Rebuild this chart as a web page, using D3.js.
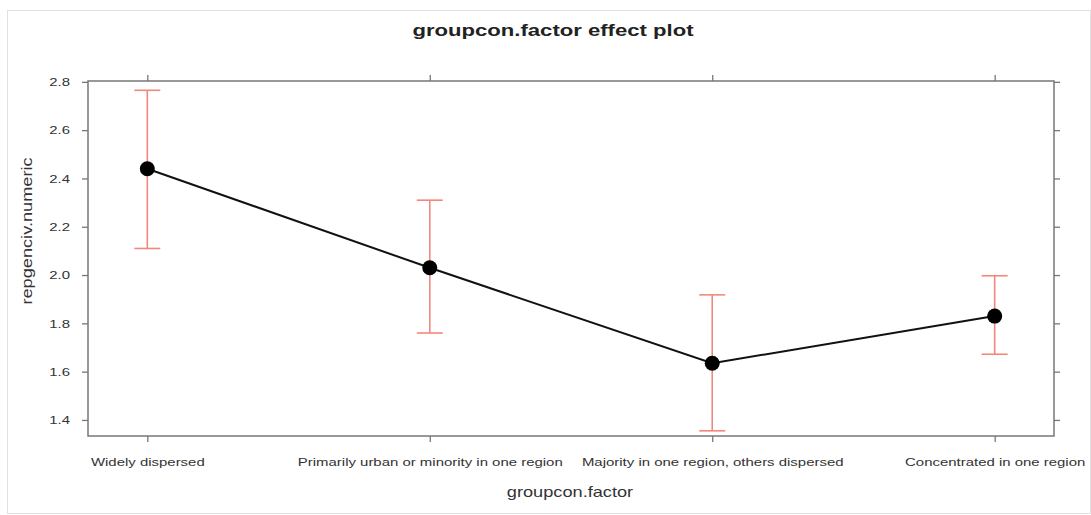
<!DOCTYPE html>
<html>
<head>
<meta charset="utf-8">
<script src="https://cdn.jsdelivr.net/npm/d3@7"></script>
<style>
  body { margin: 0; background: #fff; }
  text { font-family: "Liberation Sans", Arial, sans-serif; }
</style>
</head>
<body>
<div id="chart"></div>
<script>
// data
var categories = [
  "Widely dispersed",
  "Primarily urban or minority in one region",
  "Majority in one region, others dispersed",
  "Concentrated in one region"
];
var fitValues = [2.44, 2.03, 1.635, 1.83];
var lowerValues = [2.11, 1.76, 1.355, 1.672];
var upperValues = [2.765, 2.31, 1.918, 1.997];
var yTicks = [1.4, 1.6, 1.8, 2.0, 2.2, 2.4, 2.6, 2.8];

var svgWidth = 1091;
var svgHeight = 515;

var margin = { top: 81, right: 37, bottom: 79, left: 88 };
var chartWidth = svgWidth - margin.left - margin.right;
var chartHeight = svgHeight - margin.top - margin.bottom;

// the source image is stretched sideways, so text gets widened too
var stretch = 1.3;

var svg = d3.select("#chart")
  .append("svg")
  .attr("width", svgWidth)
  .attr("height", svgHeight);

// light outer border
svg.append("rect")
  .attr("x", 7.5).attr("y", 10.5)
  .attr("width", svgWidth - 8).attr("height", 503)
  .attr("fill", "none")
  .attr("stroke", "#e2e2e2");

var chartGroup = svg.append("g")
  .attr("transform", `translate(${margin.left}, ${margin.top})`);

var xScale = d3.scalePoint()
  .domain(categories)
  .range([0, chartWidth])
  .padding(0.21);

var yScale = d3.scaleLinear()
  .domain([1.3335, 2.8035])
  .range([chartHeight, 0]);

var axisColor = "#777";

function styleAxis(g) {
  g.select(".domain").remove();
  g.selectAll(".tick line").attr("stroke", axisColor).attr("stroke-width", 1.3);
  g.selectAll(".tick text").attr("fill", "#333").attr("font-size", "11.5px");
}

// widen a tick label around its own anchor point
function widen(g, dir) {
  g.selectAll(".tick text").each(function() {
    var t = d3.select(this);
    var x = +t.attr("x") || 0;
    var y = +t.attr("y") || 0;
    t.attr("x", 0).attr("y", 0)
      .attr("transform", `translate(${x}, ${y}) scale(${stretch}, 1)`);
  });
}

// axes
chartGroup.append("g")
  .attr("transform", `translate(0, ${chartHeight})`)
  .call(d3.axisBottom(xScale).tickSize(6).tickPadding(16))
  .call(styleAxis)
  .call(widen);

chartGroup.append("g")
  .call(d3.axisTop(xScale).tickSize(6).tickFormat(""))
  .call(styleAxis);

chartGroup.append("g")
  .call(d3.axisLeft(yScale).tickValues(yTicks).tickSize(6).tickPadding(12)
    .tickFormat(d3.format(".1f")))
  .call(styleAxis)
  .call(widen);

chartGroup.append("g")
  .attr("transform", `translate(${chartWidth}, 0)`)
  .call(d3.axisRight(yScale).tickValues(yTicks).tickSize(6).tickFormat(""))
  .call(styleAxis);

// frame
chartGroup.append("rect")
  .attr("width", chartWidth)
  .attr("height", chartHeight)
  .attr("fill", "none")
  .attr("stroke", axisColor)
  .attr("stroke-width", 1.5);

// error bars
var ciColor = "#f4877c";
var capHalf = 13;
var bars = chartGroup.selectAll(".ci")
  .data(categories)
  .enter()
  .append("g")
  .attr("class", "ci");

bars.append("line")
  .attr("x1", function(d) { return xScale(d); })
  .attr("x2", function(d) { return xScale(d); })
  .attr("y1", function(d, i) { return yScale(lowerValues[i]); })
  .attr("y2", function(d, i) { return yScale(upperValues[i]); })
  .attr("stroke", ciColor).attr("stroke-width", 1.6);

bars.append("line")
  .attr("x1", function(d) { return xScale(d) - capHalf; })
  .attr("x2", function(d) { return xScale(d) + capHalf; })
  .attr("y1", function(d, i) { return yScale(upperValues[i]); })
  .attr("y2", function(d, i) { return yScale(upperValues[i]); })
  .attr("stroke", ciColor).attr("stroke-width", 1.6);

bars.append("line")
  .attr("x1", function(d) { return xScale(d) - capHalf; })
  .attr("x2", function(d) { return xScale(d) + capHalf; })
  .attr("y1", function(d, i) { return yScale(lowerValues[i]); })
  .attr("y2", function(d, i) { return yScale(lowerValues[i]); })
  .attr("stroke", ciColor).attr("stroke-width", 1.6);

// fit line
var line = d3.line()
  .x(function(d, i) { return xScale(categories[i]); })
  .y(function(d) { return yScale(d); });

chartGroup.append("path")
  .datum(fitValues)
  .attr("d", line)
  .attr("fill", "none")
  .attr("stroke", "#111")
  .attr("stroke-width", 2);

chartGroup.selectAll("circle")
  .data(fitValues)
  .enter()
  .append("circle")
  .attr("cx", function(d, i) { return xScale(categories[i]); })
  .attr("cy", function(d) { return yScale(d); })
  .attr("r", 7.5)
  .attr("fill", "#000");

// titles
svg.append("text")
  .attr("transform", `translate(553, 36) scale(${stretch}, 1)`)
  .attr("text-anchor", "middle")
  .attr("font-size", "17px")
  .attr("font-weight", "bold")
  .attr("fill", "#222")
  .text("groupcon.factor effect plot");

svg.append("text")
  .attr("transform", `translate(570, 497) scale(${stretch}, 1)`)
  .attr("text-anchor", "middle")
  .attr("font-size", "14px")
  .attr("fill", "#333")
  .text("groupcon.factor");

svg.append("text")
  .attr("transform", `translate(32, 231) rotate(-90) scale(${stretch}, 1)`)
  .attr("text-anchor", "middle")
  .attr("font-size", "14px")
  .attr("fill", "#333")
  .text("repgenciv.numeric");
</script>
</body>
</html>
